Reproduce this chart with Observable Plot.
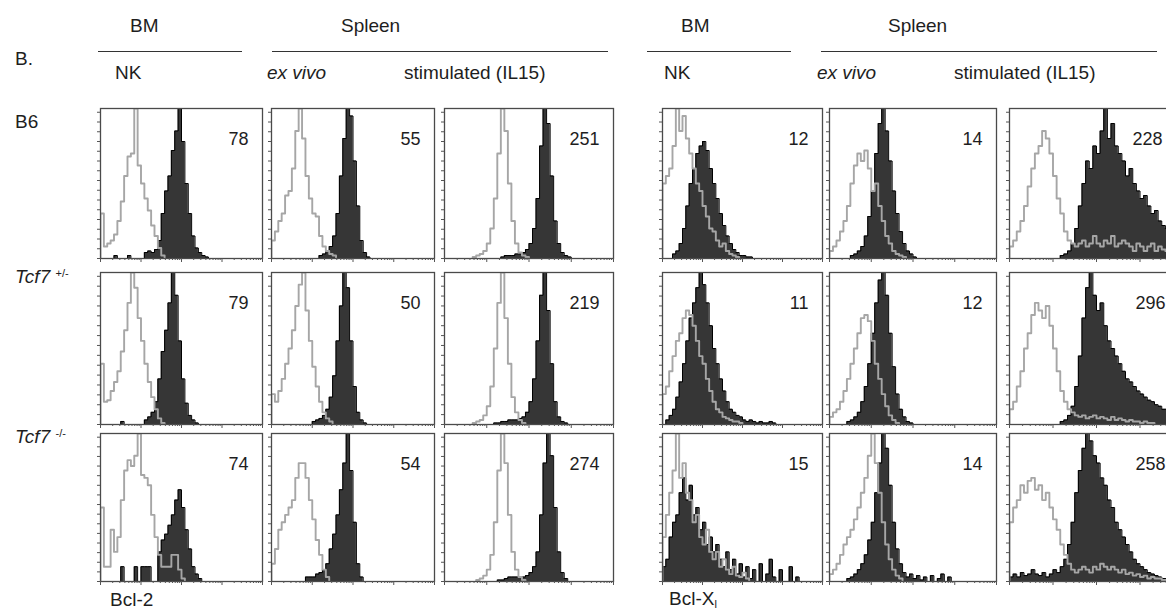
<!DOCTYPE html>
<html><head><meta charset="utf-8">
<script src="https://cdn.jsdelivr.net/npm/d3@7"></script>
<script src="https://cdn.jsdelivr.net/npm/@observablehq/plot@0.6"></script>
<style>
body{margin:0;background:#fff;}
#fig{position:relative;width:1166px;height:611px;overflow:hidden;font-family:"Liberation Sans",Arial,sans-serif;color:#1e1e1e;}
.t{position:absolute;font-size:19px;line-height:19px;white-space:nowrap;transform:translateY(-50%);}
.ul{position:absolute;height:0;border-top:1.6px solid #333;}
.p{position:absolute;}
.p svg{max-width:none !important;display:block;}
sup{font-size:11px;vertical-align:6px;line-height:0;}
</style></head><body><div id="fig"></div>
<script>
// ---- data ----
const mfiRow1 = [78, 55, 251, 12, 14, 228];
const mfiRow2 = [79, 50, 219, 11, 12, 296];
const mfiRow3 = [74, 54, 274, 15, 14, 258];
const rowLabels = ["B6", "Tcf7|+/-", "Tcf7|-/-"];
// histograms: [first bin, counts (% of panel height)], 48 bins over 4 log decades
// Bcl-2, BM NK
const g11 = [0, [30,8,10,12,16,25,38,55,68,70,100,62,50,40,32,22,15,7,2]];
const k11 = [4, [2,0,0,0,2,0,0,0,0,4,5,4,6,12,30,45,55,72,85,100,78,50,30,15,7,4,2,1]];
const g21 = [0, [40,15,16,22,28,35,48,62,80,100,90,70,55,40,28,18,10,4,1]];
const k21 = [6, [2,0,0,0,0,0,0,3,5,8,15,30,48,62,80,100,85,55,30,14,6,3,1]];
const g31 = [0, [50,10,10,35,20,30,55,75,82,78,85,100,72,70,65,45,30,18,10,10,10,18,18,8,2]];
const k31 = [6, [10,0,0,0,10,0,10,10,10,0,0,20,28,32,38,45,55,62,50,35,22,10,5,2]];
// Bcl-2, spleen ex vivo
const g12 = [0, [12,18,25,30,42,45,60,85,100,80,55,40,30,28,15,8,5,3,2]];
const k12 = [14, [2,3,5,8,15,30,55,80,100,95,65,35,12,4,1]];
const g22 = [0, [20,15,22,30,40,50,62,78,92,100,75,55,38,25,15,8,4,2]];
const k22 = [12, [2,3,4,6,10,18,32,55,78,100,90,55,25,8,3,1]];
const g32 = [0, [12,22,35,40,45,50,55,70,80,80,70,55,42,28,18,8,3]];
const k32 = [10, [3,3,3,5,6,8,12,22,32,45,62,80,100,75,40,12,3]];
// Bcl-2, spleen stimulated (IL15)
const g13 = [8, [1,2,3,5,10,20,40,70,100,85,50,25,10,4,2,1]];
const k13 = [16, [1,2,2,2,3,3,4,6,10,20,40,75,100,90,55,25,10,4,2,1]];
const g23 = [8, [1,2,3,6,12,25,50,80,100,70,40,18,8,3,1]];
const k23 = [14, [1,1,2,2,3,3,3,4,5,8,15,30,55,85,100,75,40,15,5,2,1]];
const g33 = [9, [1,2,4,8,18,40,75,100,80,45,20,8,3,1]];
const k33 = [15, [1,1,2,3,3,3,3,3,4,6,10,20,45,80,100,85,50,20,6,2]];
// Bcl-XL, BM NK
const g14 = [0, [50,55,60,75,100,85,95,80,70,60,50,45,35,28,20,18,12,8,10,5,3,2,1]];
const k14 = [3, [3,5,10,20,35,50,60,70,75,78,72,60,50,40,30,22,15,10,6,4,2,2,1,1]];
const g24 = [0, [20,25,35,45,55,60,70,75,72,65,55,45,40,30,22,15,10,8,5,4,3,2,2,1]];
const k24 = [1, [3,6,10,18,28,40,55,70,80,90,100,92,80,65,50,40,30,22,15,10,8,6,5,3,2,3,2,1,2,1,1,2,1]];
const g34 = [0, [30,45,60,75,100,70,80,60,55,40,45,30,25,35,20,15,20,10,15,8,5,10,4,3,6,2]];
const k34 = [0, [10,15,30,40,45,60,70,55,65,45,50,35,40,25,30,20,25,15,10,20,8,15,5,12,3,10,2,8,0,12,0,5,15,3,0,8,0,0,10,0,3]];
// Bcl-XL, spleen ex vivo
const g15 = [0, [5,8,12,18,25,35,50,62,70,65,72,60,45,50,35,25,15,10,5,3,2,1]];
const k15 = [6, [2,3,5,8,15,28,45,70,90,100,85,65,45,30,18,10,5,3,1]];
const g25 = [0, [5,8,10,15,22,30,40,50,60,70,72,68,55,40,30,20,12,6,3,1]];
const k25 = [5, [2,3,5,8,15,25,40,60,80,95,100,85,60,38,20,10,5,2,1]];
const g35 = [0, [5,8,12,18,25,30,35,42,50,60,70,85,100,80,60,40,25,15,8,4,2]];
const k35 = [5, [2,3,5,8,12,18,28,40,60,80,100,90,65,40,22,12,6,3,5,2,4,1,3,0,4,0,2,5,0,3]];
// Bcl-XL, spleen stimulated (IL15)
const g16 = [0, [8,12,18,25,35,48,60,70,75,85,80,70,55,40,30,18,12,10,8,10,12,8,10,15,10,8,12,10,15,8,10,12,10,8,5,10,8,5,8,10,5,8,6,5,4,3,2,2]];
const k16 = [14, [2,3,5,10,20,35,50,65,60,75,70,85,100,80,90,75,70,65,55,60,50,45,40,42,35,30,32,25,22,20,18,15,14,12]];
const g26 = [0, [10,15,25,35,50,60,72,80,75,70,78,65,50,35,22,15,10,8,6,5,6,4,5,6,4,5,4,3,5,3,4,3,2,3,2,2,1,2,1,1]];
const k26 = [14, [2,3,6,12,25,45,70,90,100,85,75,80,65,55,50,45,40,35,30,28,25,22,20,18,16,15,13,12,10,10,8,7,6,5]];
const g36 = [0, [40,50,55,65,60,68,70,62,65,55,60,50,42,35,25,18,12,8,6,8,10,8,6,10,8,12,10,8,10,8,6,8,5,6,4,5,3,4,2,3,2,2,1,1]];
const k36 = [0, [3,5,3,6,4,5,8,5,4,6,3,5,8,6,10,15,25,40,60,75,90,100,95,85,80,70,65,55,50,40,35,30,25,20,15,12,10,8,6,5,4,3,2,2,1,1]];

// ---- layout ----
const colX = [100, 271, 444, 662, 829, 1009];
const colW = [162, 163, 169, 160, 167, 174];
const rowY = [108, 272, 433];
const rowH = [150, 152, 148];
const numDx = [[-14,-14,-14,-14,-14,-21],[-14,-14,-14,-14,-14,-18],[-14,-14,-14,-14,-14,-18]];

const fig = document.getElementById("fig");
const NB = 48, DEC = 4, BW = DEC / NB;
function steps([start, vals]) {
  const pts = [{x: start * BW, y: 0}];
  vals.forEach((v, i) => { pts.push({x: (start + i) * BW, y: v}, {x: (start + i + 1) * BW, y: v}); });
  pts.push({x: (start + vals.length) * BW, y: 0});
  return pts;
}
const majorX = d3.range(0, DEC + 1);
const minorX = d3.range(0, DEC).flatMap(d => d3.range(2, 10).map(k => d + Math.log10(k)));
const yTicks = d3.range(0, 101, 6.5);

function addText(html, x, y, extra) {
  const el = document.createElement("div");
  el.className = "t"; el.innerHTML = html;
  el.style.left = x + "px"; el.style.top = y + "px";
  if (extra) Object.assign(el.style, extra);
  fig.appendChild(el);
}
function addLine(x1, x2, y) {
  const el = document.createElement("div");
  el.className = "ul"; el.style.left = x1 + "px"; el.style.width = (x2 - x1) + "px"; el.style.top = y + "px";
  fig.appendChild(el);
}

const hist = [[g11,k11,g12,k12,g13,k13,g14,k14,g15,k15,g16,k16],
              [g21,k21,g22,k22,g23,k23,g24,k24,g25,k25,g26,k26],
              [g31,k31,g32,k32,g33,k33,g34,k34,g35,k35,g36,k36]];
const mfi = [mfiRow1, mfiRow2, mfiRow3];

for (let r = 0; r < 3; r++) {
  for (let c = 0; c < 6; c++) {
    const w = colW[c], h = rowH[r];
    const ml = 7, mr = 1, mt = 1, mb = 7;
    const gp = steps(hist[r][2 * c]), kp = steps(hist[r][2 * c + 1]);
    const chart = Plot.plot({
      width: w + ml + mr, height: h + mt + mb,
      marginLeft: ml, marginRight: mr, marginTop: mt, marginBottom: mb,
      x: {domain: [0, DEC]}, y: {domain: [0, 100]},
      style: {background: "transparent", fontFamily: "Liberation Sans, Arial, sans-serif", overflow: "visible", maxWidth: "none"},
      marks: [
        Plot.area(kp, {x1: "x", y1: 0, y2: "y", fill: "#363636", clip: true}),
        Plot.line(kp, {x: "x", y: "y", stroke: "#000", strokeWidth: 1, clip: true}),
        Plot.line(gp, {x: "x", y: "y", stroke: "#a6a6a6", strokeWidth: 1.9, clip: true}),
        Plot.frame({stroke: "#4a4a4a", strokeWidth: 1.3}),
        Plot.axisX(minorX, {tickSize: 2, tickFormat: () => "", label: null, color: "#555"}),
        Plot.axisX(majorX, {tickSize: 4, tickFormat: () => "", label: null, color: "#555"}),
        Plot.axisY(yTicks, {tickSize: 3, tickFormat: () => "", label: null, color: "#555"}),
        Plot.text([mfi[r][c]], {frameAnchor: "top-right", text: d => String(d), dx: numDx[r][c], dy: 31,
          lineAnchor: "middle", textAnchor: "end", fontSize: 18, fill: "#1e1e1e"})
      ]
    });
    const div = document.createElement("div");
    div.className = "p";
    div.style.left = (colX[c] - ml) + "px"; div.style.top = (rowY[r] - mt) + "px";
    div.style.width = (w + ml + mr) + "px"; div.style.height = (h + mt + mb) + "px";
    div.appendChild(chart);
    fig.appendChild(div);
  }
}

addText("B.", 15, 58);
addText("BM", 130, 25); addText("Spleen", 341, 25);
addText("BM", 681, 25); addText("Spleen", 888, 25);
addLine(98, 242, 51); addLine(272, 608, 51);
addLine(647, 791, 51); addLine(821, 1157, 51);
addText("NK", 115, 72); addText("<i>ex vivo</i>", 267, 72); addText("stimulated (IL15)", 404, 72);
addText("NK", 664, 72); addText("<i>ex vivo</i>", 817, 72); addText("stimulated (IL15)", 954, 72);
const rowLabelY = [121, 276, 436];
rowLabels.forEach((l, i) => {
  const [name, sup] = l.split("|");
  addText(sup ? `<i>${name}</i> <sup>${sup}</sup>` : name, 15, rowLabelY[i]);
});
addText("Bcl-2", 110, 599);
addText("Bcl-X<sub style='font-size:11px;vertical-align:-3px;line-height:0'>l</sub>", 669, 598);
</script></body></html>
